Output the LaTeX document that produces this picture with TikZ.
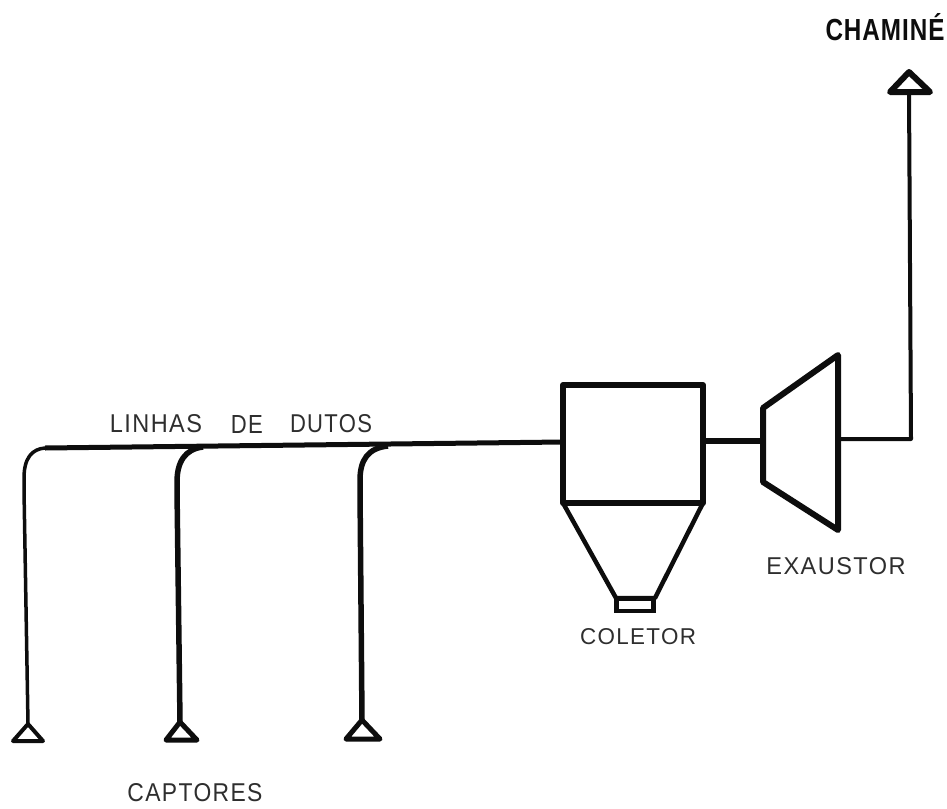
\documentclass[tikz,border=0pt]{standalone}
\usepackage{fontspec}
\usepackage{graphicx}
\setmainfont{Liberation Sans}
\newfontfamily\spaced[LetterSpace=6]{Liberation Sans}
\newfontfamily\spacedbold[LetterSpace=4]{Liberation Sans Bold}
\definecolor{ink}{gray}{0.05}
\definecolor{label}{gray}{0.18}
\tikzset{
  duct/.style={draw=ink,line width=5pt,line join=round},
  thinduct/.style={draw=ink,line width=3.5pt,line join=round},
  equip/.style={draw=ink,line width=6pt,line join=round},
  hood/.style={draw=ink,line width=4.5pt,line join=round,fill=white},
  lbl/.style={inner sep=0pt,outer sep=0pt,text=label}
}
\newcommand{\lab}[3]{\resizebox{#1pt}{#2pt}{\spaced #3}}
\newcommand{\labb}[3]{\resizebox{#1pt}{#2pt}{\spacedbold #3}}
\begin{document}
\begin{tikzpicture}[x=1pt,y=-1pt]
\useasboundingbox (0,0) rectangle (947,808);
% collector body and hopper
\node[equip,minimum width=140pt,minimum height=118pt,inner sep=0pt,outer sep=0pt] (coletor) at (633,444) {};
\coordinate (hl) at (coletor.south west);
\coordinate (hr) at (coletor.south east);
\coordinate (bl) at (616,598);
\coordinate (br) at (655,598);
\draw[equip,line width=4.5pt] (hl) -- (bl) -- (br) -- (hr);
\node[draw=ink,line width=4.5pt,minimum width=37pt,minimum height=12pt,inner sep=0pt,outer sep=0pt] (saida) at (635,605) {};
% fan
\coordinate (e1) at (763,408);
\coordinate (e2) at (838,355);
\coordinate (e3) at (838,530);
\coordinate (e4) at (763,482);
\draw[equip] (e1) -- (e2) -- (e3) -- (e4) -- cycle;
\coordinate (ein) at (763,441);
\coordinate (eout) at (838,439);
\draw[duct,line width=6pt] (coletor.east |- ein) -- (ein);
% stack
\coordinate (ca) at (909,72);
\coordinate (cm) at (909,92);
\coordinate (cb1) at (890,92);
\coordinate (cb2) at (930,92);
\coordinate (cturn) at (911,439);
\draw[duct,line width=4pt] (eout) -- (cturn) -- (cm);
\draw[hood,line width=6pt] (ca) -- (cb1) -- (cb2) -- cycle;
% main duct
\coordinate (m0) at (45,448);
\coordinate (m1) at (563,442);
\draw[duct] (m0) -- (m1);
% hoods
\coordinate (h1) at (28,724);
\coordinate (h2) at (180,722);
\coordinate (h3) at (362,720);
\draw[thinduct] (h1) -- (24,490) -- (24,478) .. controls (24,458) and (32,449) .. (m0);
\draw[duct,line width=5.5pt] (h2) -- (177,490) -- (177,482) .. controls (177,462) and (185,449) .. (203,447);
\draw[duct,line width=5.5pt] (h3) -- (360,490) -- (360,480) .. controls (360,460) and (368,448) .. (388,446);
\draw[hood,line width=4pt] (h1) -- (13,741) -- (43,741) -- cycle;
\draw[hood,line width=5pt] (h2) -- (166,740) -- (197,740) -- cycle;
\draw[hood,line width=5pt] (h3) -- (346,739) -- (380,739) -- cycle;
% labels
\node[lbl] (t1) at (156,424) {\lab{92}{18}{LINHAS}};
\node[lbl] (t2) at (247,424) {\lab{32}{18}{DE}};
\node[lbl] (t3) at (331,424) {\lab{82}{18}{DUTOS}};
\node[lbl] (t4) at (638,637) {\lab{116}{16}{COLETOR}};
\node[lbl] (t5) at (836,566) {\lab{139}{17}{EXAUSTOR}};
\node[lbl,text=ink] (t6) at (885,27) {\labb{119}{27}{CHAMINÉ}};
\node[lbl] (t7) at (195,793) {\lab{135}{18}{CAPTORES}};
\end{tikzpicture}
\end{document}
